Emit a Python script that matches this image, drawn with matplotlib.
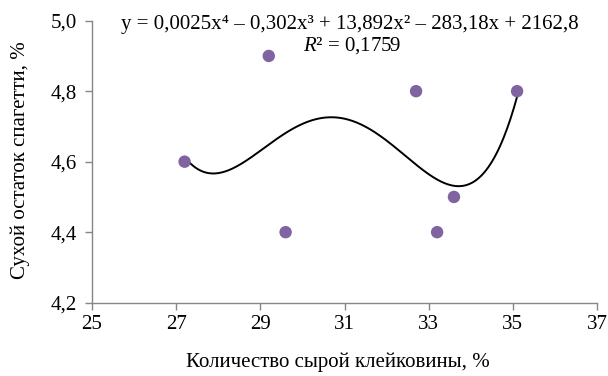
import matplotlib
matplotlib.use("Agg")
import matplotlib.pyplot as plt
import numpy as np

plt.rcParams['font.family'] = ['Liberation Serif', 'DejaVu Serif']
plt.rcParams['mathtext.fontset'] = 'custom'
plt.rcParams['mathtext.rm'] = 'Liberation Serif'
plt.rcParams['mathtext.it'] = 'Liberation Serif:italic'

# data
gluten = [27.2, 29.2, 29.6, 32.7, 33.2, 33.6, 35.1]
residue = [4.6, 4.9, 4.4, 4.8, 4.4, 4.5, 4.8]
x_ticks = [25, 27, 29, 31, 33, 35, 37]
y_ticks = [4.2, 4.4, 4.6, 4.8, 5.0]
y_tick_labels = ["4,2", "4,4", "4,6", "4,8", "5,0"]
equation = "y = 0,0025x⁴ – 0,302x³ + 13,892x² – 283,18x + 2162,8"
r2_text = r"$\mathit{R}$² = 0,1759"
x_label = "Количество сырой клейковины, %"
y_label = "Сухой остаток спагетти, %"

gray = "#868686"
purple = "#8064A2"
fs = 15

fig = plt.figure(figsize=(6.08, 3.76), dpi=100)
ax = fig.add_axes([0.1513, 0.195, 0.8307, 0.75])

# polynomial trend line (4th order), fitted to the points
coef = np.polyfit(gluten, residue, 4)
xs = np.linspace(min(gluten), max(gluten), 300)
ax.plot(xs, np.polyval(coef, xs), color="black", lw=1.4, zorder=2)
ax.scatter(gluten, residue, s=80, color=purple, edgecolors="none", zorder=3)

ax.set_xlim(25, 37)
ax.set_ylim(4.2, 5.0)
ax.set_xticks(x_ticks)
ax.set_xticklabels([str(t) for t in x_ticks])
ax.set_yticks(y_ticks)
ax.set_yticklabels(y_tick_labels)

for side in ["top", "right"]:
    ax.spines[side].set_visible(False)
for side in ["left", "bottom"]:
    ax.spines[side].set_color(gray)
    ax.spines[side].set_linewidth(1.0)
ax.tick_params(axis="both", colors=gray, labelcolor="black", labelsize=fs,
               length=5, width=1.0, direction="out")
ax.tick_params(axis="x", pad=4)
ax.tick_params(axis="y", pad=6)

fig.text(338 / 608, 1 - 362 / 376, x_label, ha="center", va="center", fontsize=fs)
fig.text(20 / 608, 1 - 160 / 376, y_label, ha="center", va="center",
         rotation=90, fontsize=fs)

fig.text(350 / 608, 1 - 24 / 376, equation, ha="center", va="center", fontsize=fs)
fig.text(352 / 608, 1 - 46 / 376, r2_text, ha="center", va="center", fontsize=fs)

fig.savefig("out.png", dpi=100)
